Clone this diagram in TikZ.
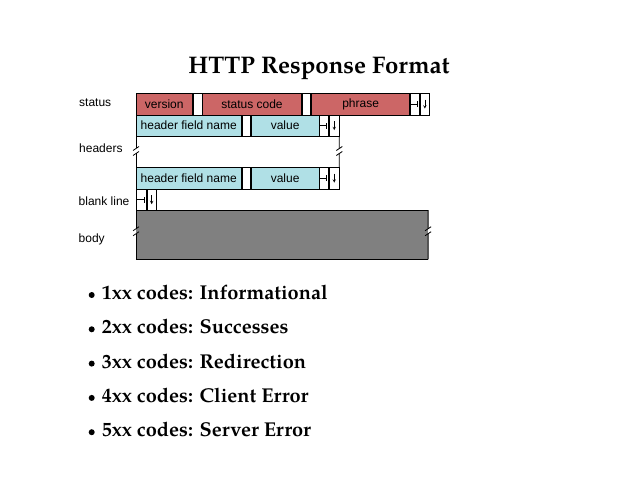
\documentclass[tikz,border=0pt]{standalone}
\usepackage{fontspec}
\setmainfont{TeX Gyre Pagella}
\newfontfamily\helv{Liberation Sans}
\usepackage{tikz}
\usetikzlibrary{arrows,positioning,calc}
\definecolor{msgred}{RGB}{204,102,102}
\definecolor{msgblue}{RGB}{176,224,230}
\definecolor{msggray}{RGB}{128,128,128}
\tikzstyle{field} = [draw, line width=0.8pt, inner sep=0pt, minimum height=21.5, font=\helv\fontsize{12}{12}\selectfont]
\tikzstyle{rowlabel} = [anchor=west, inner sep=0pt, font=\helv\fontsize{12}{12}\selectfont]
\tikzstyle{item} = [anchor=base west, inner sep=0pt, font=\fontsize{20}{20}\selectfont\bfseries]
% CR and LF marks inside a cell
\newcommand{\crsign}[1]{\draw[line width=0.6pt] ([xshift=0.5pt]#1.west) -- ([xshift=-2.5pt]#1.east) ([xshift=-2.5pt,yshift=-3pt]#1.east) -- ([xshift=-2.5pt,yshift=3pt]#1.east);}
\newcommand{\lfsign}[1]{\draw[->, >=stealth, line width=0.5pt] ([yshift=4.5pt]#1.center) -- ([yshift=-4.5pt]#1.center);}
% side line with a break mark
\newcommand{\cutline}[3]{\coordinate (cm) at ($(#1)!#3!(#2)$);
  \draw[line width=0.8pt] (#1) -- ([yshift=2.5pt]cm) ([yshift=-2.5pt]cm) -- (#2);
  \draw[line width=0.8pt] ([xshift=-3pt,yshift=0.5pt]cm) -- ([xshift=3pt,yshift=4.5pt]cm) ([xshift=-3pt,yshift=-4.5pt]cm) -- ([xshift=3pt,yshift=-0.5pt]cm);}

\begin{document}
\begin{tikzpicture}[x=1pt, y=-1pt]
\useasboundingbox (0,0) rectangle (638,493);

% Title
\node (title) [anchor=base, inner sep=0pt, font=\fontsize{24}{24}\selectfont\bfseries] at (319,73.3) {HTTP Response Format};

% Status line
\node (version) [field, anchor=north west, minimum width=55.7, fill=msgred] at (136,93) {version};
\node (gap1) [field, right=0pt of version, minimum width=9] {};
\node (code) [field, right=0pt of gap1, minimum width=98.6, fill=msgred] {status code};
\node (gap2) [field, right=0pt of code, minimum width=8.7] {};
\node (phrase) [field, right=0pt of gap2, minimum width=98, fill=msgred] {phrase};
\node (cr1) [field, right=0pt of phrase, minimum width=9] {};
\node (lf1) [field, right=0pt of cr1, minimum width=9.3] {};

% First header line
\node (hname1) [field, anchor=north west, minimum width=104.7, fill=msgblue] at (136,114.5) {header field name};
\node (gap3) [field, right=0pt of hname1, minimum width=8.6] {};
\node (value1) [field, right=0pt of gap3, minimum width=67.7, fill=msgblue] {value};
\node (cr2) [field, right=0pt of value1, minimum width=9] {};
\node (lf2) [field, right=0pt of cr2, minimum width=9.3] {};

% Last header line
\node (hname2) [field, anchor=north west, minimum width=104.7, fill=msgblue] at (136,167) {header field name};
\node (gap4) [field, right=0pt of hname2, minimum width=8.6] {};
\node (value2) [field, right=0pt of gap4, minimum width=67.7, fill=msgblue] {value};
\node (cr3) [field, right=0pt of value2, minimum width=9] {};
\node (lf3) [field, right=0pt of cr3, minimum width=9.3] {};

% Blank line
\node (cr4) [field, anchor=north west, minimum width=10] at (136,188.5) {};
\node (lf4) [field, right=0pt of cr4, minimum width=9] {};

% Body
\node (body) [anchor=north west, inner sep=0pt, minimum width=291.7, minimum height=49, fill=msggray] at (136,210) {};
\draw[line width=0.8pt] (body.north west) -- (body.north east) (body.south west) -- (body.south east);
\cutline{body.north west}{body.south west}{0.43}
\cutline{body.north east}{body.south east}{0.43}

% Headers in between
\cutline{hname1.south west}{hname2.north west}{0.47}
\cutline{lf2.south east}{lf3.north east}{0.47}

% CR LF marks
\foreach \n in {1,...,4} {\crsign{cr\n} \lfsign{lf\n}}

% Row labels
\node (lstatus) [rowlabel] at (79,102.5) {status};
\node (lheaders) [rowlabel] at (79,148.5) {headers};
\node (lblank) [rowlabel] at (78.5,201.5) {blank line};
\node (lbody) [rowlabel] at (78.5,239) {body};

% Status code classes
\foreach \txt [count=\i] in {1xx codes: Informational, 2xx codes: Successes, 3xx codes: Redirection, 4xx codes: Client Error, 5xx codes: Server Error} {
  \node (dot\i) [circle, fill, inner sep=0pt, minimum size=6] at (91.7,{265.2+34.3*\i-4.5}) {};
  \node (item\i) [item] at (101.7,{265.2+34.3*\i}) {\txt};
}
\end{tikzpicture}
\end{document}
